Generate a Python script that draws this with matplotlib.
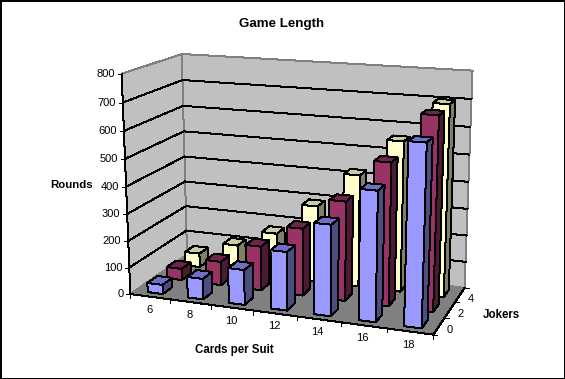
import numpy as np
import matplotlib
matplotlib.use('Agg')
import matplotlib.pyplot as plt
from matplotlib.patches import Polygon, Rectangle

plt.rcParams['font.family'] = ['Liberation Sans', 'DejaVu Sans']

cards = ['6', '8', '10', '12', '14', '16', '18']
jokers = ['0', '2', '4']
rounds_0 = [35, 77, 129, 213, 327, 460, 634]
rounds_2 = [44, 90, 166, 250, 365, 518, 692]
rounds_4 = [54, 104, 168, 289, 420, 557, 700]
rounds_ticks = [0, 100, 200, 300, 400, 500, 600, 700, 800]

series = [rounds_0, rounds_2, rounds_4]
# front, top, side
colors = [('#9999FF', '#6F6FC8', '#4D4D80'),
          ('#993366', '#6E2549', '#4D1A33'),
          ('#FFFFCC', '#CCCCA3', '#808066')]

# points, used to fit the 3d view: x, y, z, px, py
calib = np.array([
    [0, 0, 0, 130, 293], [0, 0, 200, 128, 241], [0, 0, 400, 126, 186],
    [0, 0, 600, 124, 131], [0, 0, 800, 122, 74],
    [0, 3, 0, 187, 256], [0, 3, 200, 186, 206], [0, 3, 400, 185, 156],
    [0, 3, 600, 183, 106], [0, 3, 800, 181, 54],
    [7, 3, 0, 465, 287], [7, 3, 200, 466, 235], [7, 3, 400, 468, 182],
    [7, 3, 600, 470.7, 127], [7, 3, 800, 473, 71],
    [7, 0, 0, 434, 334], [1, 0, 0, 171, 299], [2, 0, 0, 212, 305],
    [3, 0, 0, 253, 311], [4, 0, 0, 296, 317], [5, 0, 0, 341, 323],
    [6, 0, 0, 386, 329],
], dtype=float)

rows = []
for X, Y, Z, u, v in calib:
    rows.append([X, Y, Z / 100, 1, 0, 0, 0, 0, -u * X, -u * Y, -u * Z / 100, -u])
    rows.append([0, 0, 0, 0, X, Y, Z / 100, 1, -v * X, -v * Y, -v * Z / 100, -v])
P = np.linalg.svd(np.array(rows))[2][-1].reshape(3, 4)


def proj(x, y, z):
    w = P @ np.array([x, y, z / 100, 1.0])
    return w[0] / w[2], w[1] / w[2]


def face(ax, pts, fc, ec='none', z=1):
    ax.add_patch(Polygon([proj(*p) for p in pts], closed=True, facecolor=fc,
                         edgecolor=ec, linewidth=0.72, antialiased=False, zorder=z))


def line(ax, a, b, color='black', z=2):
    pa, pb = proj(*a), proj(*b)
    ax.plot([pa[0], pb[0]], [pa[1], pb[1]], color=color, lw=0.72, antialiased=False, zorder=z)


fig = plt.figure(figsize=(5.65, 3.79), dpi=100)
ax = fig.add_axes([0, 0, 1, 1])
ax.set_xlim(0, 565)
ax.set_ylim(379, 0)
ax.axis('off')

nx, ny, top = len(cards), len(jokers), rounds_ticks[-1]

# walls and floor
face(ax, [(0, 0, 0), (0, ny, 0), (0, ny, top), (0, 0, top)], '#C0C0C0', '#808080')
face(ax, [(0, ny, 0), (nx, ny, 0), (nx, ny, top), (0, ny, top)], '#C0C0C0', '#808080')
face(ax, [(0, 0, 0), (nx, 0, 0), (nx, ny, 0), (0, ny, 0)], '#808080', '#808080')

for t in rounds_ticks[1:-1]:
    line(ax, (0, 0, t), (0, ny, t))
    line(ax, (0, ny, t), (nx, ny, t))

# axis lines
line(ax, (0, 0, 0), (0, 0, top))
line(ax, (0, 0, 0), (nx, 0, 0))
line(ax, (nx, 0, 0), (nx, ny, 0))

for t in rounds_ticks:
    px, py = proj(0, 0, t)
    ax.plot([px - 4, px], [py, py], color='black', lw=0.72, antialiased=False, zorder=2)
    ax.text(px - 7, py, str(t), ha='right', va='center', fontsize=8)

for i in range(nx + 1):
    px, py = proj(i, 0, 0)
    ax.plot([px, px], [py, py + 4], color='black', lw=0.72, antialiased=False, zorder=2)
for i, c in enumerate(cards):
    px, py = proj(i + 0.5, 0, 0)
    ax.text(px - 1, py + 13, c, ha='center', va='center', fontsize=8)

for j in range(ny + 1):
    px, py = proj(nx, j, 0)
    ax.plot([px, px + 4], [py, py], color='black', lw=0.72, antialiased=False, zorder=2)
for j, c in enumerate(jokers):
    px, py = proj(nx, j + 0.5, 0)
    ax.text(px + 11, py + 4, c, ha='center', va='center', fontsize=8)

# bars, back row first
order = 3
for j in range(ny - 1, -1, -1):
    front, roof, side = colors[j]
    y0, y1 = j + 0.25, j + 0.75
    for i in range(nx):
        x0, x1 = i + 0.31, i + 0.69
        h = series[j][i]
        face(ax, [(x0, y0, 0), (x1, y0, 0), (x1, y0, h), (x0, y0, h)], front, 'black', order)
        face(ax, [(x1, y0, 0), (x1, y1, 0), (x1, y1, h), (x1, y0, h)], side, 'black', order)
        face(ax, [(x0, y0, h), (x1, y0, h), (x1, y1, h), (x0, y1, h)], roof, 'black', order)
        order += 1

ax.text(282, 24, 'Game Length', ha='center', va='center', fontsize=9.6, fontweight='bold')
ax.text(71.5, 185.5, 'Rounds', ha='center', va='center', fontsize=8.2, fontweight='bold')
ax.text(234.5, 349.5, 'Cards per Suit', ha='center', va='center', fontsize=8.3, fontweight='bold')
ax.text(501.5, 315.5, 'Jokers', ha='center', va='center', fontsize=8.3, fontweight='bold')

ax.add_patch(Rectangle((0.5, 0.5), 564, 378, fill=False, edgecolor='black', linewidth=1.2,
                       antialiased=False, zorder=100))

fig.savefig('out.png', dpi=100)
